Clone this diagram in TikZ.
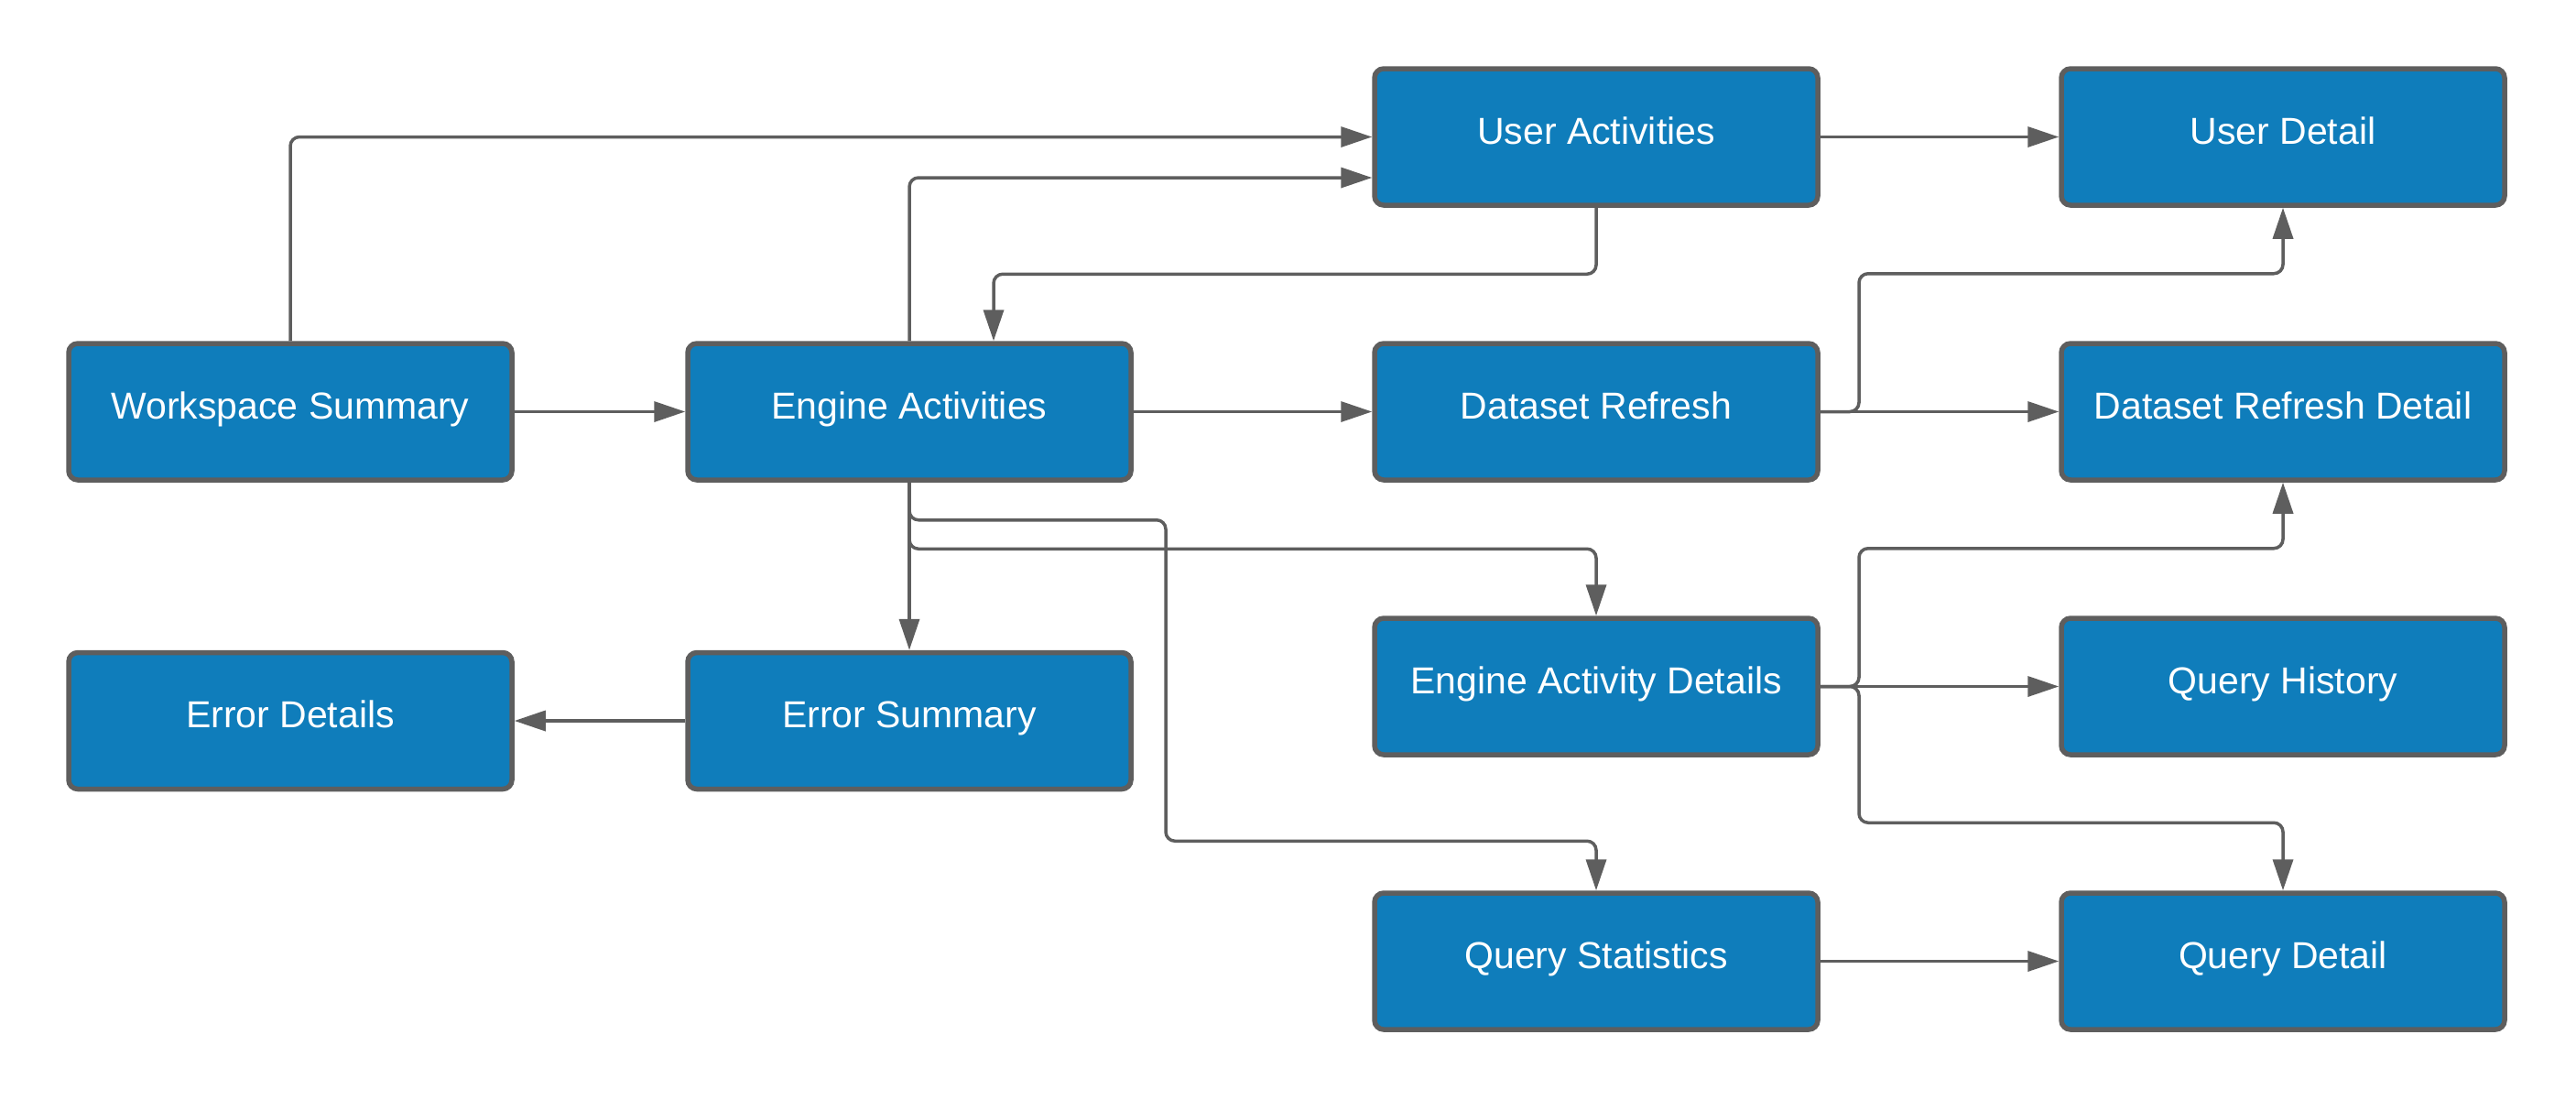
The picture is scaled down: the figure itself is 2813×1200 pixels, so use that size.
\documentclass[tikz,border=0pt]{standalone}
\usepackage{fontspec}
\setmainfont{Liberation Sans}
\usetikzlibrary{arrows.meta,calc}
\definecolor{boxblue}{HTML}{0F7DBB}
\definecolor{linegray}{HTML}{5E5E5E}
\begin{document}
\begin{tikzpicture}[x=1pt,y=-1pt,
  pagebox/.style={draw=linegray, line width=5.5pt, fill=boxblue, rounded corners=10pt,
    minimum width=484pt, minimum height=149pt, inner sep=0pt, text=white,
    font=\fontsize{41}{49}\selectfont, text height=40pt, text depth=25pt},
  conn/.style={draw=linegray, line width=3.5pt, rounded corners=10pt,
    -{Triangle[length=34pt,width=22pt]}}]
\useasboundingbox (0,0) rectangle (2813,1200);

\node[pagebox] (ws)  at (317,449.5)   {Workspace Summary};
\node[pagebox] (ea)  at (993,449.5)   {Engine Activities};
\node[pagebox] (ua)  at (1743,149.5)  {User Activities};
\node[pagebox] (ud)  at (2493,149.5)  {User Detail};
\node[pagebox] (dr)  at (1743,449.5)  {Dataset Refresh};
\node[pagebox] (drd) at (2493,449.5)  {Dataset Refresh Detail};
\node[pagebox] (ead) at (1743,749.5)  {Engine Activity Details};
\node[pagebox] (qh)  at (2493,749.5)  {Query History};
\node[pagebox] (qs)  at (1743,1049.5) {Query Statistics};
\node[pagebox] (qd)  at (2493,1049.5) {Query Detail};
\node[pagebox] (ed)  at (317,787)     {Error Details};
\node[pagebox] (es)  at (993,787)     {Error Summary};

\draw[conn] (ws.north) |- (ua.west);
\draw[conn] (ws.east) -- (ea.west);
\draw[conn] (ea.north) |- ($(ua.west)+(0,44.5)$);
\draw[conn] (ua.south) |- ($(ea.north)+(92,-73)$) -- ($(ea.north)+(92,0)$);
\draw[conn] (ua.east) -- (ud.west);
\draw[conn] (ea.east) -- (dr.west);
\draw[conn] (dr.east) -| ($(ud.south)+(-463,72)$) -| (ud.south);
\draw[conn] (dr.east) -- (drd.west);
\draw[conn] (ea.south) -- (es.north);
\draw[conn] (ea.south) |- ($(ead.north)+(0,-73)$) -- (ead.north);
\draw[conn] (ea.south) |- ($(ea.south)+(280,41)$) |- ($(qs.north)+(0,-54)$) -- (qs.north);
\draw[conn] (ead.east) -| ($(drd.south)+(-463,72)$) -| (drd.south);
\draw[conn] (ead.east) -- (qh.west);
\draw[conn] (ead.east) -| ($(qd.north)+(-463,-74)$) -| (qd.north);
\draw[conn] (qs.east) -- (qd.west);
\draw[conn] (es.west) -- (ed.east);
\end{tikzpicture}
\end{document}
